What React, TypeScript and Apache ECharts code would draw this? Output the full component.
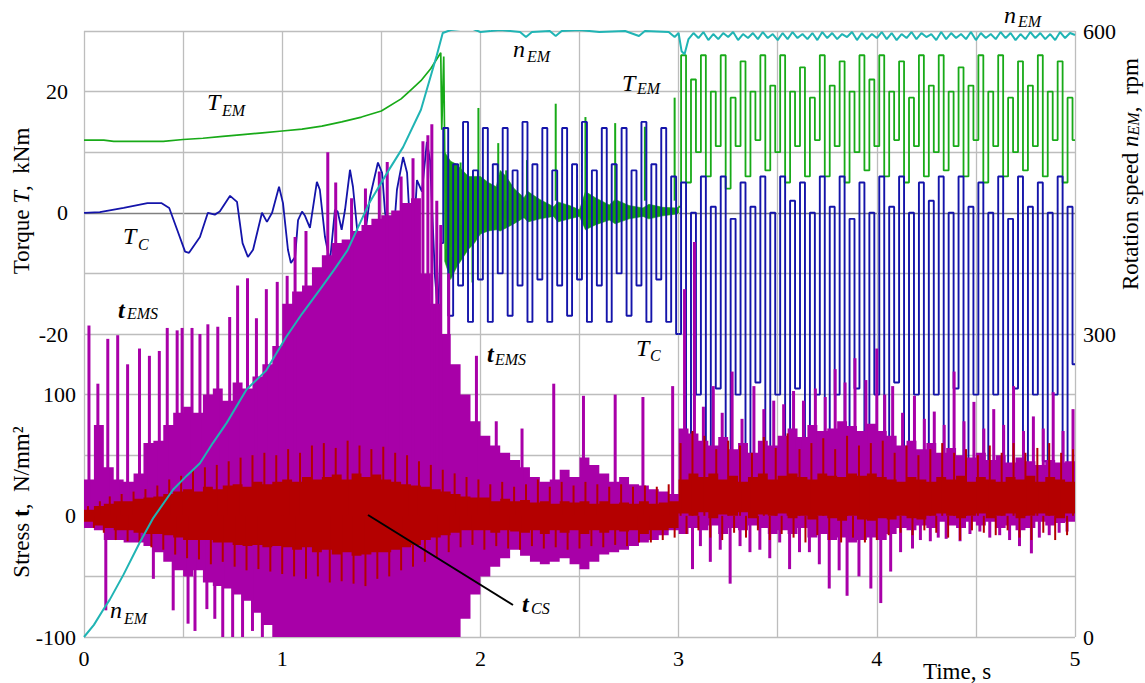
import React, { useEffect, useRef } from 'react';
import * as echarts from 'echarts';

const SERIF = 'Liberation Serif';
const C_GREEN = '#18aa18';
const C_BLUE = '#1414aa';
const C_CYAN = '#20b4b4';
const C_MAG = '#a800a8';
const C_RED = '#b40000';
const GRID_C = '#bdbdbd';
const ZERO_C = '#808080';

// ---------- tick labels ----------
const TORQUE_LABELS = [20, 0, -20];
const STRESS_LABELS = [100, 0, -100];

// ---------- T_EM (green) ----------
const TEM_A: number[][] = [
  [0, 12.0], [0.1, 12.0], [0.15, 11.8], [0.4, 11.8], [0.5, 12.1], [0.6, 12.3], [0.7, 12.6], [0.8, 12.9],
  [0.9, 13.2], [1.0, 13.5], [1.1, 13.8], [1.2, 14.3], [1.3, 15.0], [1.4, 15.8], [1.5, 16.8], [1.6, 18.8],
  [1.65, 20.3], [1.7, 21.8], [1.75, 23.8], [1.8, 26.4], [1.805, 13.7], [1.815, 25.8], [1.825, -6],
];
// dense band 1.8 - 3.0 s: [t, low, high]
const TEM_BAND: number[][] = [
  [1.82, -8, 10], [1.85, -11, 8.5], [1.88, -9, 8], [1.91, -7.5, 7], [1.94, -6, 6], [1.97, -5, 6],
  [2.0, -3.5, 6], [2.04, -3, 5], [2.08, -2.8, 4.3], [2.1, -3, 7], [2.13, -2.5, 6], [2.17, -1.8, 4],
  [2.22, -0.8, 2.5], [2.24, -1.5, 3.5], [2.3, -1, 2.2], [2.37, -0.6, 1], [2.39, -1.5, 1.8], [2.45, -1, 1.2],
  [2.5, -0.6, 0.5], [2.53, -2.8, 3.5], [2.58, -2, 2.5], [2.65, -1.2, 1.3], [2.68, -1.8, 2.2], [2.75, -1, 1.2],
  [2.82, -0.6, 0.8], [2.85, -1, 1.4], [2.92, -0.5, 0.9], [2.99, -0.2, 0.8], [3.0, 0, 1],
];
const TEM_SPIKES: number[][] = [
  [1.86, -7.3], [1.9, 8.3], [1.96, -11.5], [1.99, 17.3], [2.09, 11.5], [2.13, 7], [2.235, 8.7],
  [2.38, 18], [2.53, 15.8], [2.68, 14.8], [2.83, 14.2], [2.98, 19],
];
// 3.0 - 5.0 s, every 0.025 s
const TEM_C_START = 3.0;
const TEM_C = [
  1, 26, 5, 22, 10, 26, 6, 20, 11, 26,
  4, 19, 11, 25, 6, 20, 12, 26, 7, 21,
  10, 26, 5, 20, 11, 24, 6, 19, 12, 26,
  6, 21, 11, 25, 5, 20, 10, 26, 7, 22,
  11, 26, 6, 20, 12, 25, 5, 19, 11, 26,
  6, 21, 10, 26, 7, 20, 11, 24, 6, 21,
  12, 26, 5, 20, 11, 26, 6, 19, 10, 25,
  7, 21, 11, 26, 6, 20, 12, 25, 5, 19,
  12,
];

// ---------- T_C (blue) ----------
const TC_A: number[][] = [
  [0, 0], [0.08, 0.1], [0.2, 0.8], [0.32, 1.6], [0.39, 1.6], [0.43, 0.8], [0.47, -2.8], [0.51, -6.4],
  [0.53, -6.6], [0.585, -4.0], [0.625, 0], [0.66, -0.3], [0.685, 0.2], [0.737, 2.8], [0.772, 1.8],
  [0.8, -5], [0.827, -7.3], [0.853, -6.1], [0.898, 0], [0.923, -1.5], [0.949, 0], [0.984, 4.3],
  [1.004, 1.6], [1.029, -6.1], [1.044, -8.3], [1.065, -7.3], [1.08, -1.2], [1.1, 0.2], [1.115, -0.5],
  [1.14, -2.5], [1.175, 5.1], [1.19, 3.8], [1.216, -4], [1.241, -8.1], [1.266, 0.5], [1.28, 0.2],
  [1.3, -2.8], [1.317, 0.5], [1.342, 7.1], [1.357, 4.3], [1.382, -4], [1.403, -7.3], [1.428, -1.2],
  [1.443, 2.6], [1.483, 8.3], [1.504, 6.6], [1.519, 0], [1.544, -4], [1.559, -5], [1.579, 3.8],
  [1.61, 9.2], [1.63, 6.6], [1.655, -8.3], [1.68, 5.4], [1.705, 3.5], [1.73, 11.7], [1.746, 8.7],
  [1.771, -10.6], [1.786, -16.5], [1.8, -5],
];
const TC_B_START = 1.8;
const TC_B = [
  -5, 14, -17, 8, -12, 15, -18, 7, -11, 14, -18, 8, -10, 14, -17, 7, -12, 15, -18, 8,
  -11, 14, -18, 7, -12, 14, -17, 8, -11, 15, -18, 7, -12, 14, -18, 8, -10, 14, -17, 7,
  -12, 15, -18, 8, -11, 14, -18, 6, -20,
];
const TC_C_START = 3.0;
const TC_C = [
  -20, 5, -42, 0, -30, 6, -43, 1, -29, 6,
  -41, -1, -30, 5, -42, 1, -28, 6, -43, 0,
  -30, 6, -42, 2, -29, 5, -41, 0, -30, 6,
  -43, 1, -30, 6, -42, -1, -29, 5, -42, 0,
  -30, 6, -43, 1, -28, 6, -42, 0, -30, 5,
  -41, 2, -30, 6, -43, 0, -29, 6, -42, 1,
  -30, 5, -42, 0, -30, 6, -43, -1, -29, 6,
  -42, 1, -30, 5, -41, 0, -30, 6, -42, 1,
  -25,
];
const SAMPLE_DT = 0.025;

// ---------- n_EM (cyan) ----------
const NEM_A: number[][] = [
  [0, 0], [0.05, 12], [0.1, 28], [0.13, 37], [0.2, 62], [0.28, 93], [0.35, 118], [0.45, 146], [0.52, 160],
  [0.585, 172], [0.65, 192], [0.72, 212], [0.82, 245], [0.92, 264], [1.02, 297], [1.1, 320], [1.19, 344],
  [1.26, 363], [1.33, 383], [1.44, 430], [1.54, 463], [1.61, 485], [1.7, 522], [1.78, 576], [1.81, 598],
  [1.85, 601], [1.95, 603], [2.0, 599], [2.05, 600], [2.1, 601], [2.2, 599], [2.23, 594], [2.26, 599],
  [2.35, 600], [2.38, 595], [2.41, 600], [2.5, 601], [2.6, 599], [2.73, 600], [2.8, 595], [2.83, 600],
  [2.95, 599], [2.98, 594], [3.0, 598], [3.015, 580], [3.03, 577],
];
const NEM_B_START = 3.05;
const NEM_B = [
  592, 598, 593, 599, 591, 597, 592, 598, 594, 599,
  591, 597, 593, 598, 592, 599, 593, 597, 591, 598,
  592, 599, 593, 597, 592, 598, 591, 599, 593, 598,
  592, 597, 594, 599, 591, 598, 592, 597, 593, 599,
  592, 598, 591, 597, 593, 599, 592, 598, 594, 597,
  591, 599, 592, 598, 593, 597, 592, 599, 591, 598,
  593, 597, 592, 599, 593, 598, 591, 597, 592, 599,
  593, 598, 592, 597, 591, 599, 593, 598, 596,
];

// ---------- t_EMS (magenta), blocks of 0.05 s ----------
const BLOCK_DT = 0.05;
const MAG_HI = [
  30, 75, 40, 30, 28, 35, 60, 62, 75, 85,
  90, 85, 100, 105, 95, 110, 105, 115, 125, 140,
  175, 185, 190, 205, 215, 225, 228, 235, 240, 245,
  248, 252, 258, 262, 200, 175, 150, 125, 100, 78,
  66, 58, 52, 46, 40, 32, 28, 30, 38, 32,
  48, 42, 35, 28, 32, 26, 25, 22, 20, 18,
  72, 68, 62, 58, 65, 55, 60, 52, 62, 58,
  66, 72, 65, 75, 70, 72, 78, 74, 70, 76,
  70, 66, 58, 62, 55, 60, 52, 56, 50, 48,
  52, 46, 50, 44, 48, 45, 42, 46, 44, 45,
];
const MAG_LO = [
  -10, -12, -20, -20, -22, -22, -25, -30, -38, -45,
  -50, -45, -55, -58, -60, -65, -70, -80, -90, -100,
  -100, -100, -100, -100, -100, -100, -100, -100, -100, -100,
  -100, -100, -100, -100, -100, -100, -100, -100, -85, -65,
  -50, -42, -35, -28, -33, -38, -40, -38, -35, -40,
  -44, -38, -32, -30, -28, -25, -22, -20, -16, -12,
  -15, -10, -12, -8, -15, -10, -12, -8, -10, -15,
  -12, -15, -10, -18, -15, -20, -18, -22, -20, -18,
  -20, -15, -10, -12, -8, -10, -5, -8, -10, -5,
  -8, -5, -10, -8, -12, -10, -5, -8, -6, -5,
];
const MAG_SPIKES: number[][] = [
  [0.025, 157], [0.07, 109], [0.12, 146], [0.17, 149], [0.22, 125], [0.28, 138], [0.33, 132], [0.38, 136],
  [0.42, 155], [0.47, 153], [0.495, 155], [0.545, 155], [0.585, 150], [0.625, 158], [0.675, 156],
  [0.735, 164], [0.775, 190], [0.825, 196], [0.87, 163], [0.92, 187], [0.975, 193],
  [0.11, -78], [0.35, -52], [0.45, -78], [0.525, -89], [0.56, -95], [0.62, -77], [0.66, -85], [0.7, -100],
  [0.75, -100], [0.8, -100], [0.85, -95], [0.9, -100],
  [1.025, 198], [1.065, 230], [1.12, 235], [1.23, 300], [1.27, 275], [1.35, 262], [1.42, 270], [1.49, 284],
  [1.53, 292], [1.6, 280], [1.66, 295], [1.71, 309], [1.735, 314], [1.755, 323], [1.78, 260], [1.8, 240],
  [1.84, 200], [1.98, 132],
  [2.08, 78], [2.21, 72], [2.37, 109], [2.52, 99], [2.68, 100], [2.82, 98], [2.97, 107],
  [3.03, 187], [3.08, 226], [3.125, 90], [3.175, 107], [3.22, 85], [3.27, 119], [3.32, 80], [3.38, 107],
  [3.43, 88], [3.48, 95], [3.53, 92], [3.58, 103], [3.63, 95], [3.69, 105], [3.74, 98], [3.79, 121],
  [3.84, 110], [3.89, 130], [3.945, 112], [4.0, 138], [4.04, 100], [4.08, 107], [4.13, 85], [4.19, 99],
  [4.24, 80], [4.29, 86], [4.34, 75], [4.39, 119], [4.44, 78], [4.49, 94], [4.54, 72], [4.59, 88],
  [4.64, 75], [4.69, 107], [4.74, 70], [4.79, 82], [4.84, 72], [4.89, 102], [4.94, 70], [4.99, 88],
  [3.07, -44], [3.11, -25], [3.16, -38], [3.21, -28], [3.26, -56], [3.31, -25], [3.36, -30], [3.41, -28],
  [3.46, -35], [3.51, -22], [3.56, -44], [3.61, -30], [3.66, -30], [3.71, -40], [3.76, -60], [3.81, -45],
  [3.85, -66], [3.91, -50], [3.97, -60], [4.02, -72], [4.07, -46], [4.12, -30], [4.18, -27], [4.22, -20],
  [4.27, -21], [4.31, -18], [4.35, -19], [4.42, -21], [4.47, -15], [4.52, -13], [4.57, -18], [4.62, -16],
  [4.67, -20], [4.72, -25], [4.78, -31], [4.82, -18], [4.87, -16], [4.92, -14], [4.96, -13],
];

// ---------- t_CS (dark red), blocks of 0.05 s ----------
const RED_HI = [
  5, 8, 10, 12, 12, 14, 15, 16, 18, 20,
  22, 20, 24, 22, 25, 26, 24, 28, 26, 28,
  30, 28, 32, 30, 32, 34, 30, 35, 32, 34,
  30, 28, 26, 25, 24, 22, 20, 18, 16, 15,
  15, 12, 14, 12, 13, 11, 12, 10, 12, 11,
  12, 10, 12, 10, 11, 10, 12, 10, 11, 12,
  30, 35, 32, 35, 30, 33, 28, 32, 35, 30,
  33, 35, 32, 30, 35, 33, 32, 35, 33, 35,
  32, 30, 28, 32, 30, 28, 32, 30, 33, 28,
  32, 30, 28, 32, 30, 33, 28, 32, 30, 28,
];
const RED_LO = [
  -5, -8, -10, -12, -12, -14, -15, -15, -16, -18,
  -20, -20, -20, -22, -22, -24, -25, -24, -26, -25,
  -26, -28, -26, -30, -28, -32, -30, -33, -32, -30,
  -30, -28, -26, -24, -20, -18, -16, -14, -12, -12,
  -12, -14, -12, -13, -14, -12, -15, -12, -14, -12,
  -15, -12, -14, -12, -13, -12, -15, -12, -12, -10,
  2, 0, 3, -2, 1, 0, 3, -2, 1, 0,
  2, -2, 0, -3, 0, -2, -4, 0, -3, -4,
  -2, -3, 0, -2, -3, 0, 2, 0, -2, 0,
  2, -2, 0, 2, -2, 0, 2, 0, -2, 2,
];
const RED_SPIKES: number[][] = [
  [0.02, 8], [0.05, -10], [0.08, 12], [0.1, -14], [0.13, 16], [0.16, -20], [0.19, 18], [0.22, -21],
  [0.25, 20], [0.28, -22], [0.31, 22], [0.34, -26], [0.37, 25], [0.4, -28], [0.43, 30], [0.46, -32],
  [0.49, 33], [0.52, -35], [0.55, 38], [0.58, -36], [0.61, 40], [0.64, -40], [0.67, 42], [0.7, -38],
  [0.73, 45], [0.76, -42], [0.79, 48], [0.82, -45], [0.85, 50], [0.88, -44], [0.91, 52], [0.94, -46],
  [0.97, 50], [1.0, -48], [1.03, 55], [1.06, -50], [1.09, 52], [1.12, -52], [1.15, 58], [1.18, -50],
  [1.21, 60], [1.24, -55], [1.27, 56], [1.3, -54], [1.33, 62], [1.36, -56], [1.39, 58], [1.42, -58],
  [1.45, 55], [1.48, -52], [1.51, 57], [1.54, -50], [1.57, 52], [1.6, -45], [1.63, 50], [1.66, -42],
  [1.69, 45], [1.72, -38], [1.75, 42], [1.78, -34], [1.81, 38], [1.84, -30], [1.87, 35], [1.9, -26],
  [1.93, 32], [1.96, -24], [1.99, 30], [2.02, -28], [2.05, 26], [2.08, -25], [2.11, 28], [2.14, -27],
  [2.17, 24], [2.2, -28], [2.23, 26], [2.26, -25], [2.29, 30], [2.32, -27], [2.35, 24], [2.38, -26],
  [2.41, 28], [2.44, -28], [2.47, 25], [2.5, -27], [2.53, 28], [2.56, -25], [2.59, 26], [2.62, -26],
  [2.65, 24], [2.68, -24], [2.71, 26], [2.74, -25], [2.77, 24], [2.8, -22], [2.83, 25], [2.86, -22],
  [2.89, 24], [2.92, -20], [2.95, 26], [2.98, -18],
  [3.01, 60], [3.04, -15], [3.07, 70], [3.1, -12], [3.13, 66], [3.16, -18], [3.19, 55], [3.22, -20],
  [3.25, 62], [3.28, -14], [3.31, 58], [3.34, -18], [3.37, 52], [3.4, -12], [3.43, 65], [3.46, -20],
  [3.49, 56], [3.52, -15], [3.55, 68], [3.58, -18], [3.61, 55], [3.64, -22], [3.67, 60], [3.7, -16],
  [3.73, 64], [3.76, -20], [3.79, 55], [3.82, -22], [3.85, 66], [3.88, -18], [3.91, 58], [3.94, -22],
  [3.97, 60], [4.0, -20], [4.03, 62], [4.06, -16], [4.09, 52], [4.12, -14], [4.15, 58], [4.18, -16],
  [4.21, 50], [4.24, -12], [4.27, 55], [4.3, -14], [4.33, 60], [4.36, -18], [4.39, 52], [4.42, -20],
  [4.45, 55], [4.48, -12], [4.51, 50], [4.54, -14], [4.57, 58], [4.6, -16], [4.63, 52], [4.66, -12],
  [4.69, 60], [4.72, -18], [4.75, 52], [4.78, -20], [4.81, 56], [4.84, -14], [4.87, 60], [4.9, -20],
  [4.93, 52], [4.96, -16], [4.99, 55],
];

// ---------- helpers ----------
const seq = (start: number, vals: number[]) => vals.map((v, i) => [start + i * SAMPLE_DT, v]);

function stepBand(hi: number[], lo: number[], fill: string) {
  return (_p: any, api: any) => {
    const pts: number[][] = [];
    for (let i = 0; i < hi.length; i++) {
      pts.push(api.coord([i * BLOCK_DT, hi[i]]));
      pts.push(api.coord([(i + 1) * BLOCK_DT, hi[i]]));
    }
    for (let i = lo.length - 1; i >= 0; i--) {
      pts.push(api.coord([(i + 1) * BLOCK_DT, lo[i]]));
      pts.push(api.coord([i * BLOCK_DT, lo[i]]));
    }
    return { type: 'polygon', shape: { points: pts }, style: { fill } };
  };
}

function smoothBand(rows: number[][], fill: string) {
  return (_p: any, api: any) => {
    const pts: number[][] = [];
    rows.forEach((r) => pts.push(api.coord([r[0], r[2]])));
    for (let i = rows.length - 1; i >= 0; i--) pts.push(api.coord([rows[i][0], rows[i][1]]));
    return { type: 'polygon', shape: { points: pts }, style: { fill, stroke: fill, lineWidth: 0.6 } };
  };
}

function spikeRender(base: number, color: string, width: number) {
  return (_p: any, api: any) => {
    const t = api.value(0);
    const v = api.value(1);
    const a = api.coord([t, base]);
    const b = api.coord([t, v]);
    return { type: 'line', shape: { x1: a[0], y1: a[1], x2: b[0], y2: b[1] }, style: { stroke: color, lineWidth: width } };
  };
}

// ---------- annotation layout ----------
type Lbl = { x: number; y: number; main: string; sub: string; sx: number; sy: number; bold?: boolean };
const LABELS: Lbl[] = [
  { x: 207, y: 102, main: 'T', sub: 'EM', sx: 222, sy: 110 },
  { x: 123, y: 236, main: 'T', sub: 'C', sx: 138, sy: 244 },
  { x: 118, y: 310, main: 't', sub: 'EMS', sx: 127, sy: 313, bold: true },
  { x: 110, y: 610, main: 'n', sub: 'EM', sx: 124, sy: 618 },
  { x: 513, y: 49, main: 'n', sub: 'EM', sx: 527, sy: 56 },
  { x: 622, y: 83, main: 'T', sub: 'EM', sx: 637, sy: 88 },
  { x: 1004, y: 15, main: 'n', sub: 'EM', sx: 1018, sy: 21 },
  { x: 487, y: 354, main: 't', sub: 'EMS', sx: 495, sy: 359, bold: true },
  { x: 636, y: 348, main: 'T', sub: 'C', sx: 650, sy: 355 },
  { x: 522, y: 604, main: 't', sub: 'CS', sx: 531, sy: 608, bold: true },
];

function textEl(x: number, y: number, text: string, size: number, italic: boolean, bold: boolean) {
  return {
    type: 'text', x, y, z: 100, silent: true,
    style: {
      text, fontFamily: SERIF, fontSize: size, fontStyle: italic ? 'italic' : 'normal',
      fontWeight: bold ? 'bold' : 'normal', fill: '#000',
      align: 'left', verticalAlign: 'middle', textAlign: 'left', textVerticalAlign: 'middle',
    },
  };
}

function buildOption() {
  const torqueTicks: number[] = [];
  for (let v = -70; v <= 30; v += 10) torqueTicks.push(v);
  const gridColors = torqueTicks.map((v) => (v === 0 || v === -50 ? ZERO_C : GRID_C));
  const lbl = { fontFamily: SERIF, fontSize: 22, color: '#000' };

  const graphics: any[] = [];
  LABELS.forEach((l) => {
    graphics.push(textEl(l.x, l.y, l.main, 24, true, !!l.bold));
    graphics.push(textEl(l.sx, l.sy, l.sub, 16, true, false));
  });
  graphics.push({
    type: 'line', z: 100, silent: true,
    shape: { x1: 368, y1: 515, x2: 513, y2: 605 },
    style: { stroke: '#000', lineWidth: 2 },
  });
  graphics.push({
    type: 'text', x: 957, y: 671, z: 100, silent: true,
    style: {
      text: 'Time, s', fontFamily: SERIF, fontSize: 23, fill: '#000',
      align: 'center', verticalAlign: 'middle', textAlign: 'center', textVerticalAlign: 'middle',
    },
  });
  const richBase = { fontFamily: SERIF, fontSize: 23, fill: '#000', color: '#000' };
  graphics.push({
    type: 'text', x: 21, y: 201, rotation: Math.PI / 2, z: 100, silent: true,
    style: {
      text: '{a|Torque }{b|T}{a|,  kNm}',
      fontFamily: SERIF, fontSize: 23,
      rich: { a: { ...richBase }, b: { ...richBase, fontStyle: 'italic' } },
      align: 'center', verticalAlign: 'middle', textAlign: 'center', textVerticalAlign: 'middle',
    },
  });
  graphics.push({
    type: 'text', x: 21, y: 502, rotation: Math.PI / 2, z: 100, silent: true,
    style: {
      text: '{a|Stress }{b|t}{a|,  N/mm²}',
      fontFamily: SERIF, fontSize: 23,
      rich: { a: { ...richBase }, b: { ...richBase, fontWeight: 'bold' } },
      align: 'center', verticalAlign: 'middle', textAlign: 'center', textVerticalAlign: 'middle',
    },
  });
  graphics.push({
    type: 'text', x: 1130, y: 174, rotation: Math.PI / 2, z: 100, silent: true,
    style: {
      text: '{a|Rotation speed }{b|n}{c|EM}{a|,  rpm}',
      fontFamily: SERIF, fontSize: 23,
      rich: {
        a: { ...richBase },
        b: { ...richBase, fontStyle: 'italic' },
        c: { ...richBase, fontSize: 16, fontStyle: 'italic', verticalAlign: 'bottom' },
      },
      align: 'center', verticalAlign: 'middle', textAlign: 'center', textVerticalAlign: 'middle',
    },
  });

  const lineBase = { type: 'line', showSymbol: false, symbol: 'none', silent: true, xAxisIndex: 0 };

  return {
    animation: false,
    backgroundColor: '#fff',
    textStyle: { fontFamily: SERIF },
    grid: { left: 84, right: 70, top: 31, bottom: 46, containLabel: false },
    xAxis: {
      type: 'value', min: 0, max: 5, interval: 0.5,
      axisLine: { show: false }, axisTick: { show: false },
      splitLine: { show: true, lineStyle: { color: GRID_C, width: 1.3 } },
      axisLabel: { ...lbl, margin: 10, formatter: (v: number) => (Number.isInteger(v) ? String(v) : '') },
    },
    yAxis: [
      {
        type: 'value', min: -70, max: 30, interval: 10, position: 'left',
        axisLine: { show: false }, axisTick: { show: false },
        splitLine: { show: true, lineStyle: { color: gridColors, width: 1.3 } },
        axisLabel: { ...lbl, margin: 16, formatter: (v: number) => (TORQUE_LABELS.includes(v) ? String(v) : '') },
      },
      {
        type: 'value', min: -100, max: 400, interval: 50, position: 'left',
        axisLine: { show: false }, axisTick: { show: false }, splitLine: { show: false },
        axisLabel: { ...lbl, margin: 8, formatter: (v: number) => (STRESS_LABELS.includes(v) ? String(v) : '') },
      },
      {
        type: 'value', min: 0, max: 600, interval: 300, position: 'right',
        axisLine: { show: false }, axisTick: { show: false }, splitLine: { show: false },
        axisLabel: { ...lbl, margin: 8 },
      },
    ],
    series: [
      // T_EM
      { ...lineBase, name: 'T_EM a', yAxisIndex: 0, z: 2, data: TEM_A, lineStyle: { color: C_GREEN, width: 1.7 } },
      { type: 'custom', name: 'T_EM band', yAxisIndex: 0, z: 2, silent: true, data: [[2, 0]], renderItem: smoothBand(TEM_BAND, '#10a010') },
      { type: 'custom', name: 'T_EM spikes', yAxisIndex: 0, z: 2, silent: true, data: TEM_SPIKES, renderItem: spikeRender(2, C_GREEN, 2) },
      { ...lineBase, name: 'T_EM c', yAxisIndex: 0, z: 2, step: 'middle', data: seq(TEM_C_START, TEM_C), lineStyle: { color: C_GREEN, width: 1.8 } },
      // T_C
      { ...lineBase, name: 'T_C a', yAxisIndex: 0, z: 3, data: TC_A, lineStyle: { color: C_BLUE, width: 1.8 } },
      { ...lineBase, name: 'T_C b', yAxisIndex: 0, z: 3, step: 'middle', data: seq(TC_B_START, TC_B), lineStyle: { color: C_BLUE, width: 1.9 } },
      { ...lineBase, name: 'T_C c', yAxisIndex: 0, z: 3, step: 'middle', data: seq(TC_C_START, TC_C), lineStyle: { color: C_BLUE, width: 1.9 } },
      // t_EMS
      { type: 'custom', name: 't_EMS band', yAxisIndex: 1, z: 4, silent: true, data: [[0, 0]], renderItem: stepBand(MAG_HI, MAG_LO, C_MAG) },
      { type: 'custom', name: 't_EMS spikes', yAxisIndex: 1, z: 4, silent: true, data: MAG_SPIKES, renderItem: spikeRender(0, C_MAG, 3) },
      // t_CS
      { type: 'custom', name: 't_CS band', yAxisIndex: 1, z: 5, silent: true, data: [[0, 0]], renderItem: stepBand(RED_HI, RED_LO, C_RED) },
      { type: 'custom', name: 't_CS spikes', yAxisIndex: 1, z: 5, silent: true, data: RED_SPIKES, renderItem: spikeRender(0, C_RED, 2) },
      // n_EM
      {
        ...lineBase, name: 'n_EM', yAxisIndex: 2, z: 6,
        data: [...NEM_A, ...NEM_B.map((v, i) => [NEM_B_START + i * SAMPLE_DT, v])],
        lineStyle: { color: C_CYAN, width: 2 },
      },
    ],
    graphic: graphics,
  };
}

export default function App() {
  const ref = useRef<HTMLDivElement>(null);
  useEffect(() => {
    if (!ref.current) return;
    const chart = echarts.init(ref.current, undefined, { renderer: 'svg', width: 1145, height: 683 });
    chart.setOption(buildOption() as any);
    return () => chart.dispose();
  }, []);
  return (
    <div
      ref={ref}
      style={{ position: 'fixed', left: 0, top: 0, width: 1145, height: 683, background: '#fff' }}
    />
  );
}
